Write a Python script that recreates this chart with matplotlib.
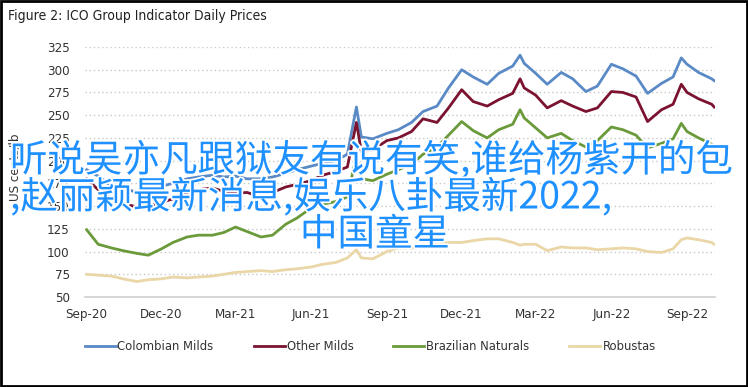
import matplotlib
matplotlib.use("Agg")
import matplotlib.pyplot as plt
import matplotlib.patheffects as pe
from matplotlib.patches import Rectangle
from matplotlib import font_manager as fm
import pandas as pd

dates = ["2020-09-01", "2020-09-15", "2020-10-01", "2020-10-15", "2020-11-01", "2020-11-15",
         "2020-12-01", "2020-12-15", "2021-01-01", "2021-01-15", "2021-02-01", "2021-02-15",
         "2021-03-01", "2021-03-15", "2021-04-01", "2021-04-15", "2021-05-01", "2021-05-15",
         "2021-06-01", "2021-06-15", "2021-07-01", "2021-07-15", "2021-07-26", "2021-08-01",
         "2021-08-15", "2021-09-01", "2021-09-15", "2021-10-01", "2021-10-15", "2021-11-01",
         "2021-11-15", "2021-12-01", "2021-12-15", "2022-01-01", "2022-01-15", "2022-02-01",
         "2022-02-10", "2022-02-15", "2022-03-01", "2022-03-15", "2022-04-01", "2022-04-15",
         "2022-05-01", "2022-05-15", "2022-06-01", "2022-06-15", "2022-07-01", "2022-07-15",
         "2022-08-01", "2022-08-15", "2022-08-25", "2022-09-01", "2022-09-15", "2022-10-01",
         "2022-10-04"]

colombian = [190, 183, 172, 170, 165, 168, 172, 175, 180, 182, 184, 182,
             183, 180, 180, 182, 186, 190, 194, 197, 200, 207, 259, 226,
             224, 230, 234, 242, 254, 260, 280, 300, 292, 284, 296, 304,
             316, 307, 296, 284, 297, 290, 276, 282, 306, 301, 293, 274,
             285, 292, 313, 306, 297, 290, 288]

other_milds = [180, 168, 158, 153, 149, 150, 154, 158, 165, 168, 170, 166,
               164, 165, 160, 165, 171, 174, 178, 184, 188, 193, 242, 210,
               212, 222, 225, 232, 246, 242, 258, 278, 265, 260, 267, 274,
               290, 280, 272, 258, 266, 260, 254, 258, 276, 275, 270, 243,
               256, 262, 284, 275, 268, 262, 259]

brazilian = [124, 108, 104, 101, 98, 96, 103, 110, 116, 118, 118, 121,
             127, 122, 116, 118, 130, 137, 148, 152, 155, 160, 205, 180,
             178, 185, 190, 196, 207, 215, 228, 243, 233, 225, 234, 240,
             256, 247, 236, 225, 230, 222, 215, 222, 237, 234, 228, 214,
             219, 224, 241, 232, 225, 218, 216]

robustas = [75, 74, 73, 70, 67, 69, 70, 72, 71, 72, 73, 75,
            77, 78, 79, 78, 80, 81, 83, 86, 88, 93, 102, 93,
            92, 100, 104, 104, 105, 108, 110, 110, 112, 114, 114, 110,
            107, 108, 108, 101, 105, 104, 104, 102, 103, 104, 103, 100,
            99, 103, 113, 115, 113, 110, 108]

series_names = ["Colombian Milds", "Other Milds", "Brazilian Naturals", "Robustas"]
series_colors = ["#5a8ac6", "#7a1230", "#6a9a3a", "#ead6a6"]

tick_labels = ["Sep-20", "Dec-20", "Mar-21", "Jun-21", "Sep-21", "Dec-21", "Mar-22", "Jun-22", "Sep-22"]
yticks = [50, 75, 100, 125, 150, 175, 200, 225, 250, 275, 300, 325]

overlay_lines = ["听说吴亦凡跟狱友有说有笑,谁给杨紫开的包",
                 ",赵丽颖最新消息,娱乐八卦最新2022,",
                 "中国童星"]

x = pd.to_datetime(dates)
tick_dates = pd.to_datetime(["2020-09-01", "2020-12-01", "2021-03-01", "2021-06-01",
                             "2021-09-01", "2021-12-01", "2022-03-01", "2022-06-01", "2022-09-01"])

# pick a condensed font if one is installed
narrow = None
for f in fm.fontManager.ttflist:
    if f.name in ("Liberation Sans Narrow",) or (f.name == "DejaVu Sans" and "ondensed" in f.fname and "Bold" not in f.fname and "Oblique" not in f.fname):
        narrow = f.fname
        break
if narrow is not None:
    fp = lambda size: fm.FontProperties(fname=narrow, size=size)
else:
    fp = lambda size: fm.FontProperties(family="Liberation Sans", size=size * 0.88)

W, H = 748, 387
fig = plt.figure(figsize=(W / 100, H / 100), dpi=100)
fig.patch.set_facecolor("white")

ax = fig.add_axes([85 / W, 1 - 297 / H, (715 - 85) / W, (297 - 47) / H])
for vals, name, col in zip([colombian, other_milds, brazilian, robustas], series_names, series_colors):
    ax.plot(x, vals, color=col, lw=2.0, label=name, solid_joinstyle="round")

ax.set_ylim(50, 325)
ax.set_xlim(pd.Timestamp("2020-08-30"), pd.Timestamp("2022-10-05"))
ax.set_yticks(yticks)
ax.set_xticks(tick_dates)
ax.set_xticklabels(tick_labels)
ax.yaxis.grid(True, linestyle=(0, (1, 2)), color="#c8c8c8", lw=1)
ax.set_axisbelow(True)
for s in ["left", "right", "top"]:
    ax.spines[s].set_visible(False)
ax.spines["bottom"].set_color("#d0d0d0")
ax.spines["bottom"].set_linewidth(1.2)
ax.tick_params(axis="both", length=0, colors="#333333")
ax.tick_params(axis="y", pad=11)
ax.tick_params(axis="x", pad=8)
for lab in ax.get_xticklabels() + ax.get_yticklabels():
    lab.set_fontproperties(fp(9.5))
ax.set_ylabel("US cents/lb", fontproperties=fp(9.5), color="#333333")
ax.yaxis.set_label_coords((21 - 85) / 630, 0.52)

leg = fig.legend(loc="center", bbox_to_anchor=(370 / W, 1 - 347 / H), ncol=4, frameon=False,
                 prop=fp(9.3), handlelength=2.4, handletextpad=0.15, columnspacing=3.1)
for t in leg.get_texts():
    t.set_color("#333333")

fig.text(8 / W, 1 - 16 / H, "Figure 2: ICO Group Indicator Daily Prices", fontproperties=fp(10),
         color="#222222", va="center", ha="left")

fig.add_artist(Rectangle((0.001, 0.003), 0.997, 0.994, transform=fig.transFigure,
                         fill=False, edgecolor="black", lw=2.0))

cjk = ["Noto Sans CJK SC", "DejaVu Sans"]
stroke = [pe.withStroke(linewidth=2.5, foreground="white")]
fig.text(10 / W, 1 - 161 / H, overlay_lines[0], fontsize=27, family=cjk, color="#1e90ff",
         ha="left", va="center", path_effects=stroke)
fig.text(10 / W, 1 - 198 / H, overlay_lines[1], fontsize=27, family=cjk, color="#1e90ff",
         ha="left", va="center", path_effects=stroke)
fig.text(375 / W, 1 - 235 / H, overlay_lines[2], fontsize=27, family=cjk, color="#1e90ff",
         ha="center", va="center", path_effects=stroke)

fig.savefig("out.png", dpi=100)
